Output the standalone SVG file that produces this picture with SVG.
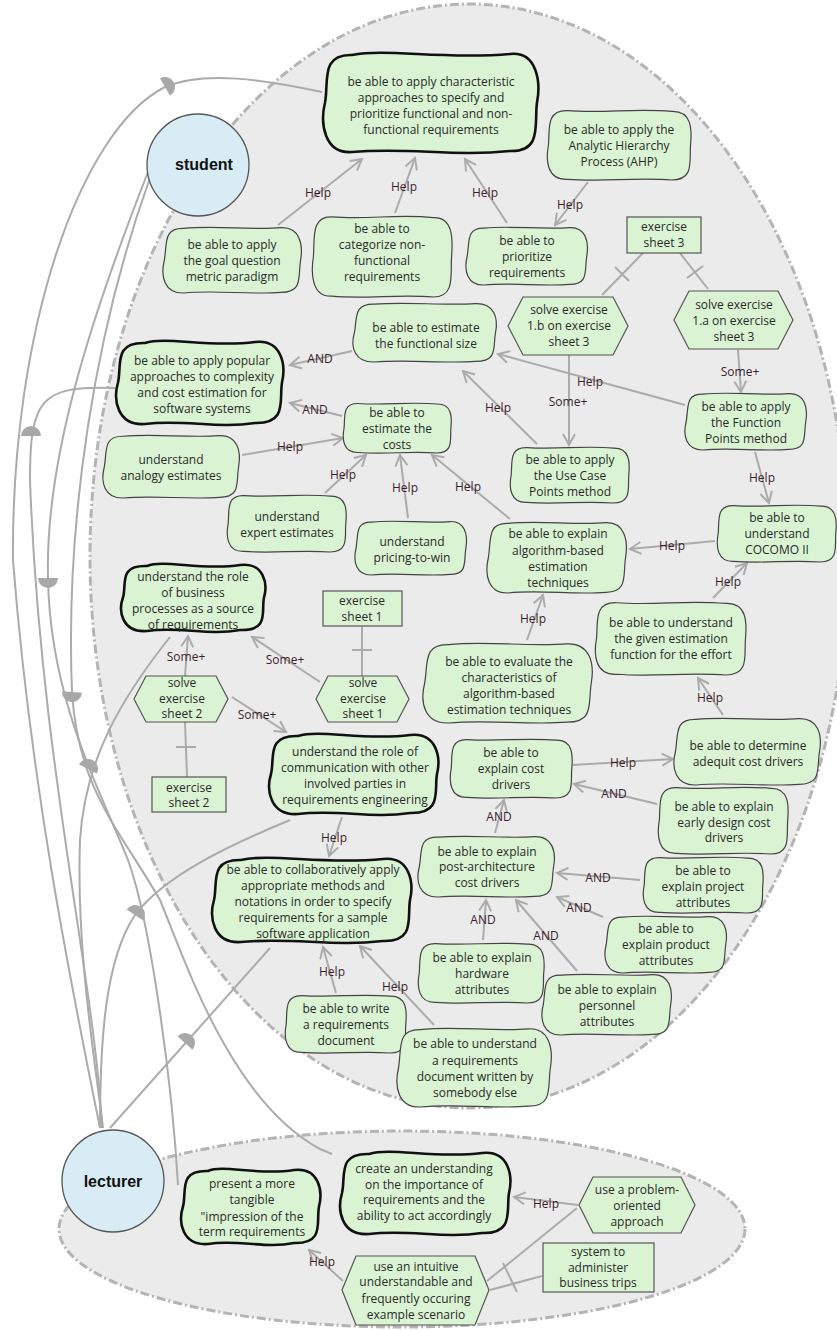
<svg xmlns="http://www.w3.org/2000/svg" xmlns:xlink="http://www.w3.org/1999/xlink" width="837" height="1330" viewBox="0 0 837 1330">
<style>
.bnd{fill:#ebebeb;stroke:#b4b4b4;stroke-width:3;stroke-dasharray:9 3 2 3}
.actor{fill:#d7ecf4;stroke:#555;stroke-width:1.3}
.atxt{font-family:"Liberation Sans",Arial,sans-serif;font-weight:bold;font-size:16px;fill:#111;text-anchor:middle}
.goal{fill:#d9f3d3;stroke:#444;stroke-width:1.2}
.soft{fill:#d9f3d3;stroke:#111;stroke-width:2.6}
.res{fill:#d9f3d3;stroke:#555;stroke-width:1.2}
.task{fill:#d9f3d3;stroke:#555;stroke-width:1.2}
.t{font-family:"Open Sans","Noto Sans",sans-serif;font-size:12px;fill:#2a2a2a;text-anchor:middle}
.lbl{font-family:"Open Sans","Noto Sans",sans-serif;font-size:12px;fill:#3b1e2b;text-anchor:middle}
.e{fill:none;stroke:#ababab;stroke-width:2}
.ea{fill:none;stroke:#ababab;stroke-width:2;marker-end:url(#arr)}
.dm{fill:#a8a8a8}
</style>
<defs>
<marker id="arr" markerWidth="14" markerHeight="14" refX="12" refY="7" orient="auto" markerUnits="userSpaceOnUse">
<path d="M1,1 L12,7 L1,13" fill="none" stroke="#ababab" stroke-width="2"/>
</marker>
<path id="dmark" d="M0,-10 A10,10 0 0 1 0,10 Z"/>
<path id="g1" vector-effect="non-scaling-stroke" d="M15,2 C38,-3 62,5 85,1 C98,0 101,25 99,50 C97,75 101,99 85,99 C62,103 38,95 15,100 C1,101 -2,75 1,50 C3,25 0,1 15,2 Z"/>
<path id="g2" vector-effect="non-scaling-stroke" d="M14,1 C40,5 60,-3 86,2 C100,1 100,28 99,50 C98,72 102,100 86,100 C60,96 40,103 14,99 C0,100 -1,72 1,50 C2,28 -1,0 14,1 Z"/>
</defs>

<g id="boundaries">
<ellipse class="bnd" cx="469" cy="556" rx="379" ry="552"/>
<ellipse class="bnd" cx="402" cy="1229" rx="343" ry="98"/>
</g>

<g id="connectors">
<path class="e" d="M100,1128 C70,980 30,780 13,560 C11,330 80,130 165,87 C205,70 265,80 322,92"/>
<path class="e" d="M102,1128 C95,980 40,760 30,480 C30,400 40,385 115,388"/>
<path class="e" d="M170,637 C120,700 85,760 80,840 C76,950 95,1060 103,1128"/>
<path class="e" d="M100,1128 C100,1040 105,960 135,915 C165,875 230,845 290,820"/>
<path class="e" d="M110,1128 L270,948"/>
<path class="e" d="M148,172 C90,320 45,460 48,578 C50,700 100,790 128,860 C150,920 172,1080 178,1185"/>
<path class="e" d="M150,178 C95,330 65,520 72,692 C78,790 120,830 160,900 C185,960 230,1100 320,1149 L332,1154"/>
<use href="#dmark" class="dm" transform="translate(165,87) rotate(-30)"/>
<use href="#dmark" class="dm" transform="translate(31,436) rotate(-90)"/>
<use href="#dmark" class="dm" transform="translate(48,578) rotate(90)"/>
<use href="#dmark" class="dm" transform="translate(72,692) rotate(95)"/>
<use href="#dmark" class="dm" transform="translate(88,769) rotate(-63)"/>
<use href="#dmark" class="dm" transform="translate(135,915) rotate(-56)"/>
<use href="#dmark" class="dm" transform="translate(185,1043) rotate(-48)"/>

<path class="ea" d="M278,225 L362,159"/>
<path class="ea" d="M395,213 L415,158"/>
<path class="ea" d="M507,223 L465,159"/>
<path class="ea" d="M588,182 L555,225"/>
<path class="e" d="M643,253 L602,295 M629,281 L615,267"/>
<path class="e" d="M680,253 L708,289 M703,266 L687,278"/>
<path class="ea" d="M738,350 L741,392"/>
<path class="ea" d="M569,355 L569,445"/>
<path class="ea" d="M685,405 L498,354"/>
<path class="ea" d="M537,444 L463,371"/>
<path class="ea" d="M352,351 L290,365"/>
<path class="ea" d="M342,416 L290,403"/>
<path class="ea" d="M242,455 L343,438"/>
<path class="ea" d="M325,493 L366,455"/>
<path class="ea" d="M408,518 L400,455"/>
<path class="ea" d="M510,519 L432,455"/>
<path class="ea" d="M715,541 L630,549"/>
<path class="ea" d="M755,452 L769,503"/>
<path class="ea" d="M713,598 L747,563"/>
<path class="ea" d="M527,640 L543,595"/>
<path class="ea" d="M723,715 L698,678"/>
<path class="ea" d="M573,765 L673,759"/>
<path class="ea" d="M657,804 L574,784"/>
<path class="ea" d="M495,833 L504,800"/>
<path class="ea" d="M640,880 L557,873"/>
<path class="ea" d="M603,917 L557,897"/>
<path class="ea" d="M483,940 L486,900"/>
<path class="ea" d="M577,971 L516,900"/>
<path class="ea" d="M336,993 L323,947"/>
<path class="ea" d="M434,1025 L360,946"/>
<path class="ea" d="M342,817 L329,856"/>
<path class="e" d="M362,627 L362,676 M352,650 L372,650"/>
<path class="ea" d="M320,682 L252,637"/>
<path class="ea" d="M185,676 L188,636"/>
<path class="ea" d="M232,697 L286,732"/>
<path class="e" d="M187,777 L185,722 M176,747 L196,747"/>
<path class="ea" d="M578,1205 L514,1197"/>
<path class="ea" d="M343,1281 L309,1250"/>
<path class="e" d="M487,1281 L577,1208"/>
<path class="e" d="M490,1290 L542,1276 M503,1263 L517,1292"/>
</g>

<g id="labels">
<text class="lbl" x="318" y="197">Help</text>
<text class="lbl" x="404" y="191">Help</text>
<text class="lbl" x="485" y="197">Help</text>
<text class="lbl" x="570" y="209">Help</text>
<text class="lbl" x="740" y="376">Some+</text>
<text class="lbl" x="568" y="406">Some+</text>
<text class="lbl" x="590" y="386">Help</text>
<text class="lbl" x="498" y="412">Help</text>
<text class="lbl" x="320" y="363">AND</text>
<text class="lbl" x="315" y="414">AND</text>
<text class="lbl" x="290" y="451">Help</text>
<text class="lbl" x="343" y="479">Help</text>
<text class="lbl" x="405" y="492">Help</text>
<text class="lbl" x="468" y="491">Help</text>
<text class="lbl" x="672" y="550">Help</text>
<text class="lbl" x="762" y="482">Help</text>
<text class="lbl" x="728" y="586">Help</text>
<text class="lbl" x="533" y="623">Help</text>
<text class="lbl" x="710" y="702">Help</text>
<text class="lbl" x="623" y="767">Help</text>
<text class="lbl" x="614" y="798">AND</text>
<text class="lbl" x="499" y="821">AND</text>
<text class="lbl" x="598" y="882">AND</text>
<text class="lbl" x="579" y="912">AND</text>
<text class="lbl" x="483" y="924">AND</text>
<text class="lbl" x="546" y="940">AND</text>
<text class="lbl" x="332" y="976">Help</text>
<text class="lbl" x="395" y="991">Help</text>
<text class="lbl" x="334" y="842">Help</text>
<text class="lbl" x="285" y="664">Some+</text>
<text class="lbl" x="186" y="661">Some+</text>
<text class="lbl" x="257" y="719">Some+</text>
<text class="lbl" x="546" y="1208">Help</text>
<text class="lbl" x="322" y="1266">Help</text>
</g>

<g id="actor-student"><circle class="actor" cx="198" cy="165" r="51"/><text class="atxt" x="204" y="170">student</text></g>
<g id="actor-lecturer"><circle class="actor" cx="113" cy="1181" r="51"/><text class="atxt" x="113" y="1187">lecturer</text></g>

<g id="sg-characteristic"><path class="soft" d="M352,55 C387,48 442,60 510,54 C537,51 541,82 537,102.5 C534,123 543,152 510,151 C453,157 409,147 352,152 C324,154 320,123 325,102.5 C329,82 320,54 352,55 Z"/>
<text class="t" x="431" y="86">be able to apply characteristic</text><text class="t" x="431" y="102">approaches to specify and</text><text class="t" x="431" y="118">prioritize functional and non-</text><text class="t" x="431" y="134">functional requirements</text></g>

<g id="g-gqm"><use href="#g1" class="goal" transform="translate(163,227) scale(1.39,0.66)"/>
<text class="t" x="232" y="249">be able to apply</text><text class="t" x="232" y="265">the goal question</text><text class="t" x="232" y="281">metric paradigm</text></g>

<g id="g-categorize"><use href="#g2" class="goal" transform="translate(312,216) scale(1.41,0.81)"/>
<text class="t" x="382" y="233">be able to</text><text class="t" x="382" y="249">categorize non-</text><text class="t" x="382" y="265">functional</text><text class="t" x="382" y="281">requirements</text></g>

<g id="g-prioritize"><use href="#g1" class="goal" transform="translate(466,227) scale(1.22,0.58)"/>
<text class="t" x="527" y="245">be able to</text><text class="t" x="527" y="261">prioritize</text><text class="t" x="527" y="277">requirements</text></g>

<g id="g-ahp"><use href="#g2" class="goal" transform="translate(547,110) scale(1.45,0.70)"/>
<text class="t" x="619" y="134">be able to apply the</text><text class="t" x="619" y="150">Analytic Hierarchy</text><text class="t" x="619" y="166">Process (AHP)</text></g>

<g id="r-sheet3"><rect class="res" x="627" y="217" width="74" height="36"/>
<text class="t" x="664" y="231">exercise</text><text class="t" x="664" y="247">sheet 3</text></g>

<g id="t-solve1b"><polygon class="task" points="508,326 523,297 613,297 628,326 613,355 523,355"/>
<text class="t" x="569" y="314">solve exercise</text><text class="t" x="569" y="330">1.b on exercise</text><text class="t" x="569" y="346">sheet 3</text></g>

<g id="t-solve1a"><polygon class="task" points="674,320 689,291 778,291 793,320 778,349 689,349"/>
<text class="t" x="734" y="309">solve exercise</text><text class="t" x="734" y="325">1.a on exercise</text><text class="t" x="734" y="341">sheet 3</text></g>

<g id="g-funcsize"><use href="#g1" class="goal" transform="translate(353,303) scale(1.44,0.59)"/>
<text class="t" x="426" y="332">be able to estimate</text><text class="t" x="426" y="348">the functional size</text></g>

<g id="sg-popular"><path class="soft" d="M145,343 C166,336 208.5,348 255,342 C282,339 286,365.5 282,382.5 C279,399.5 288,424 255,423 C217,429 183,419 145,424 C117,426 113,399.5 118,382.5 C122,365.5 113,342 145,343 Z"/>
<text class="t" x="202" y="365">be able to apply popular</text><text class="t" x="202" y="381">approaches to complexity</text><text class="t" x="202" y="397">and cost estimation for</text><text class="t" x="202" y="413">software systems</text></g>

<g id="g-costs"><use href="#g2" class="goal" transform="translate(343,403) scale(1.09,0.50)"/>
<text class="t" x="397" y="417">be able to</text><text class="t" x="397" y="433">estimate the</text><text class="t" x="397" y="449">costs</text></g>

<g id="g-analogy"><use href="#g1" class="goal" transform="translate(103,435) scale(1.37,0.63)"/>
<text class="t" x="171" y="464">understand</text><text class="t" x="171" y="480">analogy estimates</text></g>

<g id="g-expert"><use href="#g2" class="goal" transform="translate(227,495) scale(1.20,0.57)"/>
<text class="t" x="287" y="521">understand</text><text class="t" x="287" y="537">expert estimates</text></g>

<g id="g-pricing"><use href="#g1" class="goal" transform="translate(355,521) scale(1.12,0.54)"/>
<text class="t" x="412" y="546">understand</text><text class="t" x="412" y="562">pricing-to-win</text></g>

<g id="g-usecase"><use href="#g2" class="goal" transform="translate(510,447) scale(1.20,0.56)"/>
<text class="t" x="570" y="464">be able to apply</text><text class="t" x="570" y="480">the Use Case</text><text class="t" x="570" y="496">Points method</text></g>

<g id="g-fp"><use href="#g1" class="goal" transform="translate(685,393) scale(1.22,0.57)"/>
<text class="t" x="746" y="411">be able to apply</text><text class="t" x="746" y="427">the Function</text><text class="t" x="746" y="443">Points method</text></g>

<g id="g-cocomo"><use href="#g2" class="goal" transform="translate(717,505) scale(1.20,0.57)"/>
<text class="t" x="777" y="522">be able to</text><text class="t" x="777" y="538">understand</text><text class="t" x="777" y="554">COCOMO II</text></g>

<g id="g-algorithm"><use href="#g1" class="goal" transform="translate(487,522) scale(1.40,0.71)"/>
<text class="t" x="558" y="538">be able to explain</text><text class="t" x="558" y="555">algorithm-based</text><text class="t" x="558" y="571">estimation</text><text class="t" x="558" y="587">techniques</text></g>

<g id="g-given"><use href="#g2" class="goal" transform="translate(595,602) scale(1.52,0.73)"/>
<text class="t" x="671" y="627">be able to understand</text><text class="t" x="671" y="643">the given estimation</text><text class="t" x="671" y="659">function for the effort</text></g>

<g id="g-evaluate"><use href="#g1" class="goal" transform="translate(423,643) scale(1.70,0.80)"/>
<text class="t" x="509" y="666">be able to evaluate the</text><text class="t" x="509" y="682">characteristics of</text><text class="t" x="509" y="698">algorithm-based</text><text class="t" x="509" y="714">estimation techniques</text></g>

<g id="sg-business"><path class="soft" d="M147,566 C164,559 201,571 240,565 C264,562 268,584 264,597.5 C261,611 270,631 240,630 C208,636 179,626 147,631 C122,633 118,611 123,597.5 C127,584 118,565 147,566 Z"/>
<text class="t" x="193" y="581">understand the role</text><text class="t" x="193" y="597">of business</text><text class="t" x="193" y="613">processes as a source</text><text class="t" x="193" y="629">of requirements</text></g>

<g id="r-sheet1"><rect class="res" x="323" y="591" width="79" height="35"/>
<text class="t" x="362" y="605">exercise</text><text class="t" x="362" y="621">sheet 1</text></g>

<g id="t-solve1"><polygon class="task" points="316,699 328,676 397,676 409,699 397,722 328,722"/>
<text class="t" x="363" y="687">solve</text><text class="t" x="363" y="703">exercise</text><text class="t" x="363" y="718">sheet 1</text></g>

<g id="t-solve2"><polygon class="task" points="134,699 146,676 216,676 228,699 216,722 146,722"/>
<text class="t" x="182" y="687">solve</text><text class="t" x="182" y="703">exercise</text><text class="t" x="182" y="718">sheet 2</text></g>

<g id="r-sheet2"><rect class="res" x="152" y="777" width="74" height="35"/>
<text class="t" x="189" y="792">exercise</text><text class="t" x="189" y="807">sheet 2</text></g>

<g id="sg-communication"><path class="soft" d="M298,736 C320,729 363,741 410,735 C437,732 441,758 437,774 C434,790 443,814 410,813 C371,819 337,809 298,814 C270,816 266,790 271,774 C275,758 266,735 298,736 Z"/>
<text class="t" x="355" y="756">understand the role of</text><text class="t" x="355" y="772">communication with other</text><text class="t" x="355" y="788">involved parties in</text><text class="t" x="355" y="804">requirements engineering</text></g>

<g id="g-explaincost"><use href="#g2" class="goal" transform="translate(450,739) scale(1.23,0.59)"/>
<text class="t" x="511" y="757">be able to</text><text class="t" x="511" y="773">explain cost</text><text class="t" x="511" y="789">drivers</text></g>

<g id="g-determine"><use href="#g1" class="goal" transform="translate(674,718) scale(1.47,0.67)"/>
<text class="t" x="748" y="750">be able to determine</text><text class="t" x="748" y="766">adequit cost drivers</text></g>

<g id="g-early"><use href="#g2" class="goal" transform="translate(658,787) scale(1.31,0.67)"/>
<text class="t" x="724" y="811">be able to explain</text><text class="t" x="724" y="827">early design cost</text><text class="t" x="724" y="842">drivers</text></g>

<g id="g-post"><use href="#g1" class="goal" transform="translate(418,836) scale(1.37,0.61)"/>
<text class="t" x="487" y="856">be able to explain</text><text class="t" x="487" y="871">post-architecture</text><text class="t" x="487" y="887">cost drivers</text></g>

<g id="g-project"><use href="#g2" class="goal" transform="translate(643,857) scale(1.21,0.56)"/>
<text class="t" x="703" y="875">be able to</text><text class="t" x="703" y="891">explain project</text><text class="t" x="703" y="907">attributes</text></g>

<g id="g-product"><use href="#g1" class="goal" transform="translate(605,916) scale(1.22,0.57)"/>
<text class="t" x="666" y="933">be able to</text><text class="t" x="666" y="949">explain product</text><text class="t" x="666" y="965">attributes</text></g>

<g id="g-hardware"><use href="#g2" class="goal" transform="translate(418,943) scale(1.27,0.60)"/>
<text class="t" x="482" y="962">be able to explain</text><text class="t" x="482" y="978">hardware</text><text class="t" x="482" y="994">attributes</text></g>

<g id="g-personnel"><use href="#g1" class="goal" transform="translate(542,974) scale(1.30,0.61)"/>
<text class="t" x="607" y="994">be able to explain</text><text class="t" x="607" y="1010">personnel</text><text class="t" x="607" y="1026">attributes</text></g>

<g id="sg-collaborative"><path class="soft" d="M241,860 C272,853 322,865 383,859 C410,856 414,883 410,900 C407,917 416,942 383,941 C332,947 292,937 241,942 C213,944 209,917 214,900 C218,883 209,859 241,860 Z"/>
<text class="t" x="313" y="874">be able to collaboratively apply</text><text class="t" x="313" y="890">appropriate methods and</text><text class="t" x="313" y="906">notations in order to specify</text><text class="t" x="313" y="922">requirements for a sample</text><text class="t" x="313" y="938">software application</text></g>

<g id="g-write"><use href="#g2" class="goal" transform="translate(285,995) scale(1.22,0.58)"/>
<text class="t" x="346" y="1013">be able to write</text><text class="t" x="346" y="1029">a requirements</text><text class="t" x="346" y="1045">document</text></g>

<g id="g-understanddoc"><use href="#g1" class="goal" transform="translate(397,1028) scale(1.55,0.79)"/>
<text class="t" x="475" y="1048">be able to understand</text><text class="t" x="475" y="1065">a requirements</text><text class="t" x="475" y="1081">document written by</text><text class="t" x="475" y="1097">somebody else</text></g>

<g id="sg-present"><path class="soft" d="M208,1171 C223,1164 258,1176 294,1170 C319,1167 323,1191 319,1206.5 C316,1222 325,1244 294,1243 C265,1249 237,1239 208,1244 C182,1246 178,1222 183,1206.5 C187,1191 178,1170 208,1171 Z"/>
<text class="t" x="252" y="1188">present a more</text><text class="t" x="252" y="1204">tangible</text><text class="t" x="252" y="1221">"impression of the</text><text class="t" x="252" y="1236">term requirements</text></g>

<g id="sg-create"><path class="soft" d="M369,1154 C391,1147 434,1159 482,1153 C509,1150 513,1176 509,1193 C506,1210 515,1234 482,1233 C443,1239 408,1229 369,1234 C341,1236 337,1210 342,1193 C346,1176 337,1153 369,1154 Z"/>
<text class="t" x="424" y="1173">create an understanding</text><text class="t" x="424" y="1189">on the importance of</text><text class="t" x="424" y="1204">requirements and the</text><text class="t" x="424" y="1220">ability to act accordingly</text></g>

<g id="t-problem"><polygon class="task" points="579,1205 593,1177 681,1177 695,1205 681,1233 593,1233"/>
<text class="t" x="637" y="1194">use a problem-</text><text class="t" x="637" y="1210">oriented</text><text class="t" x="637" y="1226">approach</text></g>

<g id="r-system"><rect class="res" x="543" y="1243" width="111" height="49"/>
<text class="t" x="598" y="1256">system to</text><text class="t" x="598" y="1272">administer</text><text class="t" x="598" y="1287">business trips</text></g>

<g id="t-intuitive"><polygon class="task" points="342,1290 356,1256 475,1256 489,1290 475,1325 356,1325"/>
<text class="t" x="416" y="1271">use an intuitive</text><text class="t" x="416" y="1286">understandable and</text><text class="t" x="416" y="1303">frequently occuring</text><text class="t" x="416" y="1319">example scenario</text></g>
</svg>
